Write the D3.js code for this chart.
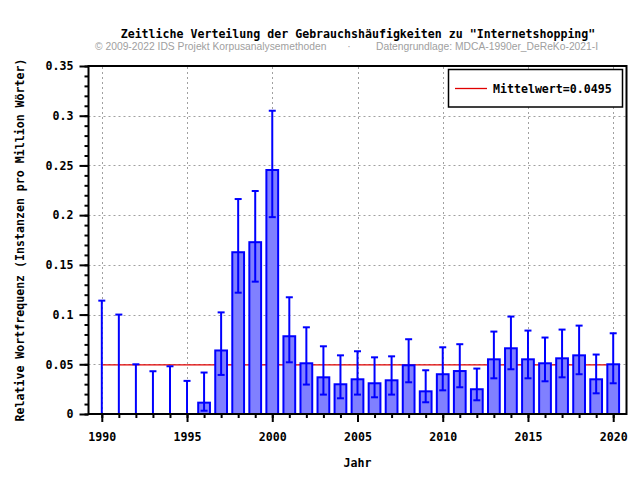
<!DOCTYPE html>
<html>
<head>
<meta charset="utf-8">
<script src="https://cdn.jsdelivr.net/npm/d3@7"></script>
<style>
  html, body { margin: 0; padding: 0; background: #fff; }
  svg { display: block; }
  .mono { font-family: "DejaVu Sans Mono", monospace; font-weight: bold; }
</style>
</head>
<body>
<svg id="chart" width="640" height="480"></svg>
<script>
const years = d3.range(1990, 2021);
const values = [0, 0, 0, 0, 0, 0, 0.0114, 0.0639, 0.1627, 0.1728, 0.2454, 0.0782, 0.051, 0.0369, 0.0299, 0.0349, 0.0309, 0.0339, 0.049, 0.0228, 0.040, 0.0432, 0.0249, 0.055, 0.0661, 0.055, 0.051, 0.056, 0.059, 0.0349, 0.050];
const lower = [0, 0, 0, 0, 0, 0, 0.0033, 0.0393, 0.122, 0.1331, 0.198, 0.052, 0.0296, 0.0195, 0.0158, 0.0195, 0.0168, 0.0195, 0.0319, 0.0118, 0.0238, 0.0269, 0.0138, 0.0359, 0.045, 0.0359, 0.0329, 0.0369, 0.040, 0.0208, 0.0309];
const upper = [0.114, 0.100, 0.050, 0.043, 0.048, 0.0333, 0.0417, 0.1022, 0.2162, 0.2243, 0.305, 0.1174, 0.0872, 0.0681, 0.059, 0.0631, 0.057, 0.058, 0.0752, 0.044, 0.0671, 0.0702, 0.0457, 0.0829, 0.098, 0.0839, 0.0769, 0.0849, 0.0889, 0.0598, 0.0812];
const meanValue = 0.0495;
const xMajorTicks = [1990, 1995, 2000, 2005, 2010, 2015, 2020];
const yMajorTicks = [0, 0.05, 0.1, 0.15, 0.2, 0.25, 0.3, 0.35];
const yMinorTicks = d3.range(0, 36).map(d => d / 100);
const titleText = 'Zeitliche Verteilung der Gebrauchshäufigkeiten zu "Internetshopping"';
const creditLeft = "© 2009-2022 IDS Projekt Korpusanalysemethoden";
const creditRight = "Datengrundlage: MDCA-1990er_DeReKo-2021-I";
const xTitle = "Jahr";
const yTitle = "Relative Wortfrequenz (Instanzen pro Million Wörter)";
const legendLabel = "Mittelwert=" + meanValue;

const data = years.map((y, i) => ({year: y, value: values[i], lo: lower[i], hi: upper[i]}));

const svg = d3.select("#chart");
const L = 88.5, R = 626.5, T = 66, B = 414;
const x = d3.scaleLinear().domain([1989.22, 2020.78]).range([L, R]);
const y = d3.scaleLinear().domain([0, 0.35]).range([B, T]);
const barW = x(1990.69) - x(1990);

// gridlines
const grid = svg.append("g").attr("stroke", "#a0a0a0").attr("stroke-width", 1).attr("stroke-dasharray", "2,3");
grid.selectAll(".gx").data(xMajorTicks).join("line")
  .attr("x1", d => Math.round(x(d)) + 0.5).attr("x2", d => Math.round(x(d)) + 0.5)
  .attr("y1", B).attr("y2", T);
grid.selectAll(".gy").data(yMajorTicks.filter(d => d > 0 && d < 0.35)).join("line")
  .attr("x1", L).attr("x2", R)
  .attr("y1", d => Math.round(y(d)) + 0.5).attr("y2", d => Math.round(y(d)) + 0.5);

// mean line
svg.append("line")
  .attr("x1", x(1990)).attr("x2", x(2020))
  .attr("y1", y(meanValue)).attr("y2", y(meanValue))
  .attr("stroke", "#e00000").attr("stroke-width", 1.3);

// bars
svg.append("g").selectAll("rect").data(data.filter(d => d.value > 0)).join("rect")
  .attr("x", d => x(d.year) - barW / 2)
  .attr("width", barW)
  .attr("y", d => y(d.value))
  .attr("height", d => y(0) - y(d.value))
  .attr("fill", "#8080ff").attr("stroke", "#0000ff").attr("stroke-width", 2);

// error bars
const eb = svg.append("g").attr("stroke", "#0000ff").attr("stroke-width", 2);
const cap = 3.5;
eb.selectAll(".v").data(data).join("line")
  .attr("x1", d => x(d.year)).attr("x2", d => x(d.year))
  .attr("y1", d => y(d.lo)).attr("y2", d => y(d.hi));
eb.selectAll(".t").data(data).join("line")
  .attr("x1", d => x(d.year) - cap).attr("x2", d => x(d.year) + cap)
  .attr("y1", d => y(d.hi)).attr("y2", d => y(d.hi));
eb.selectAll(".b").data(data).join("line")
  .attr("x1", d => x(d.year) - cap).attr("x2", d => x(d.year) + cap)
  .attr("y1", d => y(d.lo)).attr("y2", d => y(d.lo));

// axes
const fmt = d => d === 0 ? "0" : String(+d.toFixed(2));
const xMinor = svg.append("g").attr("transform", `translate(0,${B})`)
  .call(d3.axisBottom(x).tickValues(years).tickSize(4).tickFormat(""));
const xMajor = svg.append("g").attr("transform", `translate(0,${B})`)
  .call(d3.axisBottom(x).tickValues(xMajorTicks).tickSize(8).tickPadding(11).tickFormat(d3.format("d")));
const yMinor = svg.append("g").attr("transform", `translate(${L},0)`)
  .call(d3.axisLeft(y).tickValues(yMinorTicks).tickSize(4).tickFormat(""));
const yMajor = svg.append("g").attr("transform", `translate(${L},0)`)
  .call(d3.axisLeft(y).tickValues(yMajorTicks).tickSize(9).tickPadding(6).tickFormat(fmt));
[xMinor, xMajor, yMinor, yMajor].forEach(g => {
  g.select(".domain").remove();
  g.selectAll(".tick line").attr("stroke", "#000").attr("stroke-width", 2);
  g.selectAll(".tick text").attr("class", "mono").attr("font-size", "11.6px").attr("fill", "#000");
});

// frame
svg.append("rect").attr("x", L).attr("y", T).attr("width", R - L).attr("height", B - T)
  .attr("fill", "none").attr("stroke", "#000").attr("stroke-width", 2);

// legend
const lg = svg.append("g");
lg.append("rect").attr("x", 448.5).attr("y", 69.5).attr("width", 174).attr("height", 37.5)
  .attr("fill", "#fff").attr("stroke", "#000").attr("stroke-width", 1.5);
lg.append("line").attr("x1", 455).attr("x2", 487).attr("y1", 88.5).attr("y2", 88.5)
  .attr("stroke", "#e00000").attr("stroke-width", 1.3);
lg.append("text").attr("class", "mono").attr("font-size", "11.6px")
  .attr("x", 493).attr("y", 92.5).text(legendLabel);

// titles
svg.append("text").attr("class", "mono").attr("font-size", "11.6px")
  .attr("x", 358).attr("y", 38).attr("text-anchor", "middle").text(titleText);
svg.append("text").attr("font-family", "'Liberation Sans', Arial, sans-serif").attr("font-size", "10.3px")
  .attr("fill", "#a0a0a0").attr("x", 95).attr("y", 50).text(creditLeft);
svg.append("text").attr("font-family", "'Liberation Sans', Arial, sans-serif").attr("font-size", "10.3px")
  .attr("fill", "#a0a0a0").attr("x", 349).attr("y", 50).attr("text-anchor", "middle").text("·");
svg.append("text").attr("font-family", "'Liberation Sans', Arial, sans-serif").attr("font-size", "10.3px")
  .attr("fill", "#a0a0a0").attr("x", 376).attr("y", 50).text(creditRight);
svg.append("text").attr("class", "mono").attr("font-size", "11.6px")
  .attr("x", (L + R) / 2).attr("y", 467).attr("text-anchor", "middle").text(xTitle);
svg.append("text").attr("class", "mono").attr("font-size", "11.6px")
  .attr("transform", `translate(24,${(T + B) / 2}) rotate(-90)`)
  .attr("text-anchor", "middle").text(yTitle);
</script>
</body>
</html>
